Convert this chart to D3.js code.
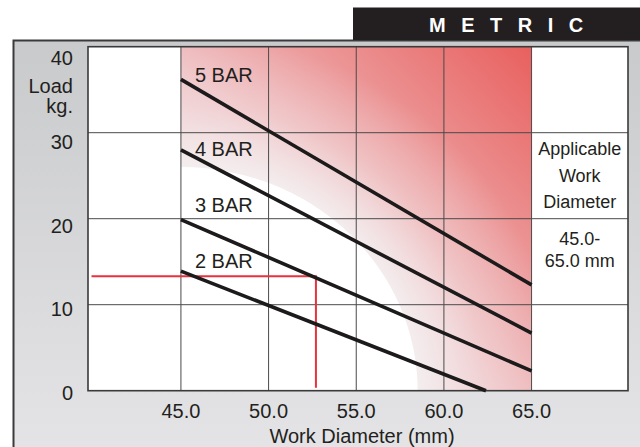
<!DOCTYPE html>
<html>
<head>
<meta charset="utf-8">
<script src="https://cdn.jsdelivr.net/npm/d3@7"></script>
<style>
  body { margin: 0; background: #fff; }
  svg text { font-family: "Liberation Sans Narrow", "Arial Narrow", "Liberation Sans", Arial, sans-serif; fill: #231f20; }
</style>
</head>
<body>
<div id="chart"></div>
<script>
// values
const xTicks = [45, 50, 55, 60, 65];
const yTicks = [0, 10, 20, 30, 40];
const pressures = ["2 BAR", "3 BAR", "4 BAR", "5 BAR"];
const loadAt45 = [13.9, 19.9, 28.0, 36.2];
const endDiameter = [62.4, 65, 65, 65];
const loadAtEnd = [0, 2.3, 6.7, 12.3];
const labelLoad = [14.3, 20.8, 27.3, 35.9];
const markerDiameter = 52.7;
const markerLoad = 13.3;
const workRange = [45, 65];
const whiteCurve = { diameter: 58.5, load: 26 };
const sideNote = ["Applicable", "Work", "Diameter"];
const sideRange = ["45.0-", "65.0 mm"];

const W = 640, H = 447;

const svg = d3.select("#chart").append("svg")
  .attr("width", W)
  .attr("height", H);

const x = d3.scaleLinear().domain([39.7, 70.5]).range([88, 628]);
const y = d3.scaleLinear().domain([0, 40]).range([390.7, 46.7]);
// the printed tick numbers sit a little off the grid lines
const yLabel = d3.scaleLinear().domain([0, 40]).range([400, 65]);

const defs = svg.append("defs");

let panelGrad = defs.append("linearGradient")
  .attr("id", "panel")
  .attr("x1", 0).attr("y1", 0).attr("x2", 0).attr("y2", 1);
panelGrad.append("stop").attr("offset", 0).attr("stop-color", "#c9cacc");
panelGrad.append("stop").attr("offset", 1).attr("stop-color", "#e4e4e6");

let zoneGrad = defs.append("linearGradient")
  .attr("id", "zone")
  .attr("gradientUnits", "userSpaceOnUse")
  .attr("x1", x(45)).attr("y1", y(0))
  .attr("x2", x(65)).attr("y2", y(40));
zoneGrad.append("stop").attr("offset", 0).attr("stop-color", "#f3f0f1");
zoneGrad.append("stop").attr("offset", 0.45).attr("stop-color", "#efc0c3");
zoneGrad.append("stop").attr("offset", 1).attr("stop-color", "#e8605e");

// white glow around the lower-left corner of the zone
const rx = x(whiteCurve.diameter) - x(45);
const ry = y(0) - y(whiteCurve.load);
const glowR = 1.6;
let glow = defs.append("radialGradient")
  .attr("id", "glow")
  .attr("gradientUnits", "userSpaceOnUse")
  .attr("cx", 0).attr("cy", 0).attr("r", rx * glowR)
  .attr("gradientTransform", `translate(${x(45)},${y(0)}) scale(1,${ry / rx})`);
glow.append("stop").attr("offset", 0).attr("stop-color", "#fff").attr("stop-opacity", 1);
glow.append("stop").attr("offset", 1 / glowR).attr("stop-color", "#f4f1f2").attr("stop-opacity", 0.9);
glow.append("stop").attr("offset", 0.8).attr("stop-color", "#f4f1f2").attr("stop-opacity", 0.35);
glow.append("stop").attr("offset", 1).attr("stop-color", "#f4f1f2").attr("stop-opacity", 0);

// grey panel
svg.append("rect")
  .attr("x", 13).attr("y", 40)
  .attr("width", W - 13).attr("height", H - 40)
  .attr("fill", "url(#panel)");
svg.append("path")
  .attr("d", `M13.5,${H} L13.5,40.5 L${W},40.5`)
  .attr("fill", "none")
  .attr("stroke", "#3a3a3a")
  .attr("stroke-width", 2);

// METRIC tab
svg.append("rect")
  .attr("x", 353).attr("y", 7.5)
  .attr("width", W - 353).attr("height", 32.5)
  .attr("fill", "#231f20");
svg.append("text")
  .attr("x", 429).attr("y", 32)
  .attr("font-size", "20px")
  .attr("font-weight", "bold")
  .attr("letter-spacing", "15.5px")
  .style("fill", "#fff")
  .text("METRIC");

// plot area
svg.append("rect")
  .attr("x", x.range()[0]).attr("y", y(40))
  .attr("width", x.range()[1] - x.range()[0])
  .attr("height", y(0) - y(40))
  .attr("fill", "#fff");

svg.append("rect")
  .attr("x", x(workRange[0])).attr("y", y(40))
  .attr("width", x(workRange[1]) - x(workRange[0]))
  .attr("height", y(0) - y(40))
  .attr("fill", "url(#zone)");

svg.append("rect")
  .attr("x", x(workRange[0])).attr("y", y(40))
  .attr("width", x(workRange[1]) - x(workRange[0]))
  .attr("height", y(0) - y(40))
  .attr("fill", "url(#glow)");

// white quarter ellipse in the lower left of the zone
svg.append("path")
  .attr("d", `M${x(45)},${y(0)} L${x(45)},${y(0) - ry} A${rx},${ry} 0 0 1 ${x(45) + rx},${y(0)} Z`)
  .attr("fill", "#fff");

// grid
svg.append("g")
  .selectAll("line")
  .data(xTicks)
  .enter()
  .append("line")
  .attr("x1", d => x(d)).attr("x2", d => x(d))
  .attr("y1", y(40)).attr("y2", y(0))
  .attr("stroke", "#4a4a4a")
  .attr("stroke-width", 1);

svg.append("g")
  .selectAll("line")
  .data(yTicks.slice(1, -1))
  .enter()
  .append("line")
  .attr("x1", x.range()[0]).attr("x2", x.range()[1])
  .attr("y1", d => y(d)).attr("y2", d => y(d))
  .attr("stroke", "#4a4a4a")
  .attr("stroke-width", 1);

svg.append("rect")
  .attr("x", x.range()[0]).attr("y", y(40))
  .attr("width", x.range()[1] - x.range()[0])
  .attr("height", y(0) - y(40))
  .attr("fill", "none")
  .attr("stroke", "#3a3a3a")
  .attr("stroke-width", 1.6);

// red reading marker
svg.append("path")
  .attr("d", `M${x(39.9)},${y(markerLoad)} L${x(markerDiameter)},${y(markerLoad)} L${x(markerDiameter)},${y(0.35)}`)
  .attr("fill", "none")
  .attr("stroke", "#e8323e")
  .attr("stroke-width", 2);

// pressure lines
let lineFun = d3.line()
  .x(d => x(d[0]))
  .y(d => y(d[1]));

svg.append("g")
  .selectAll("path")
  .data(pressures)
  .enter()
  .append("path")
  .attr("d", (d, i) => lineFun([[45, loadAt45[i]], [endDiameter[i], loadAtEnd[i]]]))
  .attr("stroke", "#1c1a1a")
  .attr("stroke-width", 3.6)
  .attr("fill", "none");

svg.append("g")
  .selectAll("text")
  .data(pressures)
  .enter()
  .append("text")
  .attr("x", x(45.8))
  .attr("y", (d, i) => y(labelLoad[i]))
  .attr("font-size", "20px")
  .text(d => d);

// y tick labels
svg.append("g")
  .selectAll("text")
  .data(yTicks)
  .enter()
  .append("text")
  .attr("x", 73)
  .attr("y", d => yLabel(d))
  .attr("text-anchor", "end")
  .attr("font-size", "20px")
  .text(d => d);

svg.append("text")
  .attr("x", 73).attr("y", 93)
  .attr("text-anchor", "end")
  .attr("font-size", "20px")
  .text("Load");
svg.append("text")
  .attr("x", 73).attr("y", 113)
  .attr("text-anchor", "end")
  .attr("font-size", "20px")
  .text("kg.");

// x tick labels
svg.append("g")
  .selectAll("text")
  .data(xTicks)
  .enter()
  .append("text")
  .attr("x", d => x(d))
  .attr("y", 418)
  .attr("text-anchor", "middle")
  .attr("font-size", "20px")
  .text(d => d.toFixed(1));

svg.append("text")
  .attr("x", 362).attr("y", 443)
  .attr("text-anchor", "middle")
  .attr("font-size", "20px")
  .text("Work Diameter (mm)");

// side note
const sideX = (x(65) + x.range()[1]) / 2;
svg.append("g")
  .selectAll("text")
  .data(sideNote)
  .enter()
  .append("text")
  .attr("x", sideX)
  .attr("y", (d, i) => 155 + i * 26.7)
  .attr("text-anchor", "middle")
  .attr("font-size", "18px")
  .text(d => d);

svg.append("g")
  .selectAll("text")
  .data(sideRange)
  .enter()
  .append("text")
  .attr("x", sideX)
  .attr("y", (d, i) => 245 + i * 21.5)
  .attr("text-anchor", "middle")
  .attr("font-size", "18px")
  .text(d => d);
</script>
</body>
</html>
